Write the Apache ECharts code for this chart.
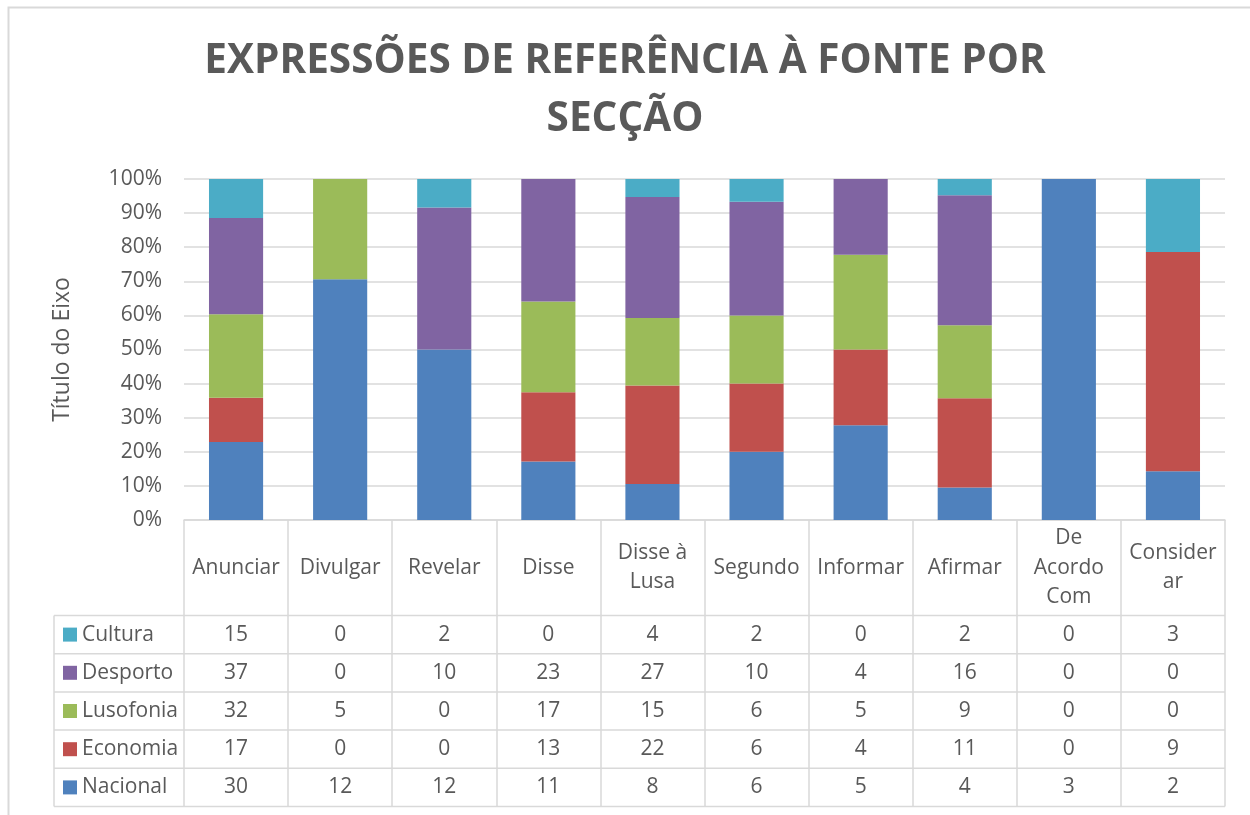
<!DOCTYPE html>
<html>
<head>
<meta charset="utf-8">
<title>Expressões de referência à fonte por secção</title>
<script src="https://cdn.jsdelivr.net/npm/echarts@6/dist/echarts.min.js"></script>
<style>
  html, body { margin: 0; padding: 0; background: #fff; }
  #chart { width: 1250px; height: 815px; }
</style>
</head>
<body>
<div id="chart"></div>
<script>
// 100% stacked columns with a data table underneath (Excel style)
var categories = ['Anunciar', 'Divulgar', 'Revelar', 'Disse', 'Disse à Lusa', 'Segundo', 'Informar', 'Afirmar', 'De Acordo Com', 'Considerar']
// header text as it is wrapped in the table
var headerLabels = ['Anunciar', 'Divulgar', 'Revelar', 'Disse', 'Disse à\nLusa', 'Segundo', 'Informar', 'Afirmar', 'De\nAcordo\nCom', 'Consider\nar']

var nacional = [30, 12, 12, 11, 8, 6, 5, 4, 3, 2]
var economia = [17, 0, 0, 13, 22, 6, 4, 11, 0, 9]
var lusofonia = [32, 5, 0, 17, 15, 6, 5, 9, 0, 0]
var desporto = [37, 0, 10, 23, 27, 10, 4, 16, 0, 0]
var cultura = [15, 0, 2, 0, 4, 2, 0, 2, 0, 3]

var yTicks = [0, 10, 20, 30, 40, 50, 60, 70, 80, 90, 100]

var seriesDefs = [
  { name: 'Nacional', data: nacional, color: '#4F81BD' },
  { name: 'Economia', data: economia, color: '#C0504D' },
  { name: 'Lusofonia', data: lusofonia, color: '#9BBB59' },
  { name: 'Desporto', data: desporto, color: '#8064A2' },
  { name: 'Cultura', data: cultura, color: '#4BACC6' }
]

var totals = categories.map(function (c, i) {
  return seriesDefs.reduce(function (s, d) { return s + d.data[i] }, 0)
})

var FONT = '"Open Sans", sans-serif'
var TEXT = '#595959'
var LINE = '#D9D9D9'

// table geometry
var gridLeft = 184
var gridRight = 1225
var axisY = 520
var rowTop = 615.5
var rowH = 38.2
var legendLeft = 54

var chart = echarts.init(document.getElementById('chart'))

chart.setOption({
  animation: false,
  title: {
    text: 'EXPRESSÕES DE REFERÊNCIA À FONTE POR\nSECÇÃO',
    left: 'center',
    top: 32,
    padding: [0, 0, 0, 26],
    textStyle: {
      fontFamily: FONT,
      fontWeight: 'bold',
      fontSize: 40.5,
      lineHeight: 58,
      color: TEXT
    }
  },
  grid: {
    left: gridLeft,
    right: 1250 - gridRight,
    top: 179,
    bottom: 815 - axisY
  },
  xAxis: {
    type: 'category',
    data: categories,
    axisLine: { lineStyle: { color: LINE, width: 1.5 } },
    axisTick: {
      show: true,
      interval: 0,
      length: rowTop + rowH * 5 - axisY,
      lineStyle: { color: LINE, width: 1.5 }
    },
    axisLabel: { show: false }
  },
  yAxis: {
    type: 'value',
    min: yTicks[0],
    max: yTicks[yTicks.length - 1],
    interval: 10,
    name: 'Título do Eixo',
    nameLocation: 'middle',
    nameGap: 110,
    nameRotate: 90,
    nameTextStyle: { fontFamily: FONT, fontSize: 23, color: TEXT },
    axisLine: { show: false },
    axisTick: { show: false },
    axisLabel: {
      margin: 22,
      fontFamily: FONT,
      fontSize: 21,
      color: TEXT,
      formatter: '{value}%'
    },
    splitLine: { lineStyle: { color: LINE, width: 1.5 } }
  },
  series: seriesDefs.map(function (d) {
    return {
      name: d.name,
      type: 'bar',
      stack: 'total',
      barWidth: '52%',
      itemStyle: { color: d.color },
      data: d.data.map(function (v, i) { return v / totals[i] * 100 })
    }
  })
})

// data table drawn below the plot, columns taken from the category axis
var graphics = []
var colX = categories.map(function (c) {
  return chart.convertToPixel({ xAxisIndex: 0 }, c)
})

// outer frame
graphics.push({
  type: 'rect',
  shape: { x: 8.5, y: 7.5, width: 1300, height: 1000 },
  style: { fill: null, stroke: LINE, lineWidth: 2 },
  silent: true
})

// header row
headerLabels.forEach(function (t, i) {
  graphics.push({
    type: 'text',
    x: colX[i],
    y: (axisY + rowTop) / 2,
    style: {
      text: t,
      fontFamily: FONT,
      fontSize: 21,
      lineHeight: 29.5,
      fill: TEXT,
      align: 'center',
      verticalAlign: 'middle'
    }
  })
})

// horizontal rules
for (var r = 0; r <= 5; r++) {
  graphics.push({
    type: 'line',
    shape: { x1: legendLeft, y1: rowTop + rowH * r, x2: gridRight, y2: rowTop + rowH * r },
    style: { stroke: LINE, lineWidth: 1.5 }
  })
}
graphics.push({
  type: 'line',
  shape: { x1: legendLeft, y1: rowTop, x2: legendLeft, y2: rowTop + rowH * 5 },
  style: { stroke: LINE, lineWidth: 1.5 }
})

// rows: top row is the last series
var rows = seriesDefs.slice().reverse()
rows.forEach(function (d, r) {
  var cy = rowTop + rowH * (r + 0.5)
  graphics.push({
    type: 'rect',
    shape: { x: 63, y: cy - 7, width: 14, height: 14 },
    style: { fill: d.color }
  })
  graphics.push({
    type: 'text',
    x: 82,
    y: cy,
    style: {
      text: d.name,
      fontFamily: FONT,
      fontSize: 21,
      fill: TEXT,
      align: 'left',
      verticalAlign: 'middle'
    }
  })
  d.data.forEach(function (v, i) {
    graphics.push({
      type: 'text',
      x: colX[i],
      y: cy,
      style: {
        text: String(v),
        fontFamily: FONT,
        fontSize: 21,
        fill: TEXT,
        align: 'center',
        verticalAlign: 'middle'
      }
    })
  })
})

chart.setOption({ graphic: graphics })
</script>
</body>
</html>
